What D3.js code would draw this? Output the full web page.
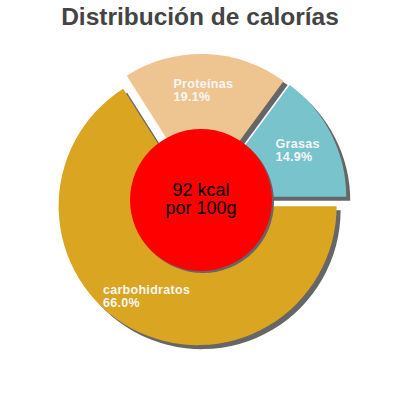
<!DOCTYPE html>
<html><head><meta charset="utf-8">
<script src="https://cdn.jsdelivr.net/npm/d3@7"></script>
<style>body{margin:0;background:#fff}svg{display:block}</style>
</head><body>
<svg id="c" width="400" height="400"></svg>
<script>
const title = "Distribución de calorías";
const categories = ["Grasas", "Proteínas", "carbohidratos"];
const values = [14.9, 19.1, 66.0];
const colors = ["#78c3cc", "#eec591", "#daa520"];
const centerLines = ["92 kcal", "por 100g"];

const svg = d3.select("#c");
const cx = 201, cy = 200, R = 139, explode = 7, holeR = 71;

svg.append("text").attr("x", 200).attr("y", 25).attr("text-anchor", "middle")
  .attr("font-family", "Liberation Sans, Arial, sans-serif").attr("font-weight", "bold")
  .attr("font-size", 24.5).attr("fill", "#444").text(title);

const data = categories.map((c, i) => ({cat: c, value: values[i], color: colors[i]}));
const pie = d3.pie().value(d => d.value).sort(null)
  .startAngle(Math.PI / 2).endAngle(Math.PI / 2 - 2 * Math.PI);
const arcs = pie(data);
const arc = d3.arc().innerRadius(0).outerRadius(R);
const labelArc = d3.arc().innerRadius(103).outerRadius(103);
const off = d => { const a = (d.startAngle + d.endAngle) / 2; return [Math.sin(a) * explode, -Math.cos(a) * explode]; };

const g = svg.append("g").attr("transform", `translate(${cx},${cy})`);
g.selectAll("path.sh").data(arcs).join("path").attr("class", "sh")
  .attr("d", arc).attr("fill", "#666")
  .attr("transform", d => { const o = off(d); return `translate(${o[0] + 4},${o[1] + 4})`; });
g.selectAll("path.sl").data(arcs).join("path").attr("class", "sl")
  .attr("d", arc).attr("fill", d => d.data.color)
  .attr("transform", d => { const o = off(d); return `translate(${o[0]},${o[1]})`; });

// labels
g.selectAll("text.lb").data(arcs).join("text").attr("class", "lb")
  .attr("font-family", "Liberation Sans, Arial, sans-serif").attr("font-size", 12.5)
  .attr("font-weight", "bold").attr("letter-spacing", 0.3)
  .attr("fill", "#f6f6f6")
  .each(function(d) {
    const o = off(d), c = labelArc.centroid(d);
    const t = d3.select(this);
    const pct = d.data.value.toFixed(1) + "%";
    const t1 = t.append("tspan").text(d.data.cat);
    const t2 = t.append("tspan").text(pct);
    const w = Math.max(t1.node().getComputedTextLength(), t2.node().getComputedTextLength());
    const x0 = c[0] + o[0] - w / 2 - 1.5, y0 = c[1] + o[1];
    t1.attr("x", x0).attr("y", y0 - 2);
    t2.attr("x", x0).attr("y", y0 + 10.5);
  });

// center circle
g.append("circle").attr("cx", 2).attr("cy", 2).attr("r", holeR).attr("fill", "#666");
g.append("circle").attr("r", holeR).attr("fill", "#ff0000");
g.append("text").attr("text-anchor", "middle")
  .attr("font-family", "Liberation Sans, Arial, sans-serif").attr("font-size", 18).attr("fill", "#000")
  .selectAll("tspan").data(centerLines).join("tspan")
  .attr("x", 0).attr("y", (d, i) => -4.5 + i * 18).text(d => d);
</script>
</body></html>
